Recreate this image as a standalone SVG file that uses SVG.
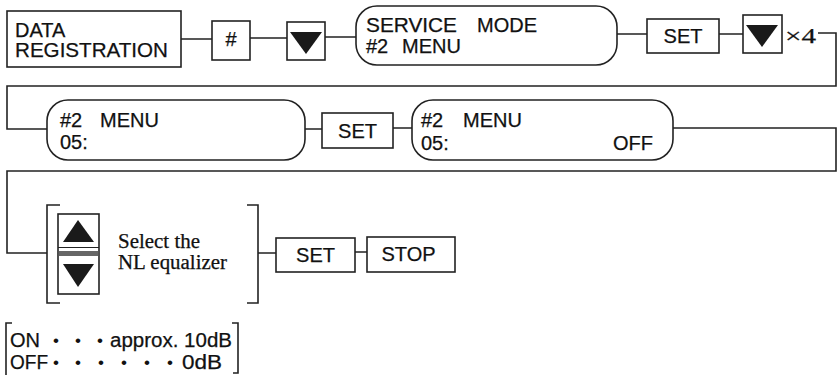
<svg xmlns="http://www.w3.org/2000/svg" width="839" height="375" viewBox="0 0 839 375">
<style>
.b{fill:#fff;stroke:#222;stroke-width:1.6}
.l{fill:none;stroke:#222;stroke-width:1.6}
.t{font-family:"Liberation Sans",Arial,sans-serif;font-size:20px;fill:#111;stroke:#111;stroke-width:0.25}
.s{font-family:"Liberation Serif","Times New Roman",serif;font-size:20px;fill:#111;stroke:#111;stroke-width:0.25}
.d{font-family:"Liberation Sans",Arial,sans-serif;font-size:17px;fill:#111;text-anchor:middle}
.tri{fill:#1a1a1a}
</style>
<rect width="839" height="375" fill="#fff"/>
<g id="connectors">
<path class="l" d="M181 39H212M250 38H287M325 37H356"/>
<path class="l" d="M617 34H647M719 34H743"/>
<path class="l" d="M818 33H836V86H7V129H47"/>
<path class="l" d="M305 129H322M393 128H412"/>
<path class="l" d="M673 128H836V171H7V253H47"/>
<path class="l" d="M258 253H276M355 252H367"/>
</g>
<g id="data-registration">
<rect class="b" x="7" y="11" width="174" height="56"/>
<text class="t" x="15" y="37">DATA</text>
<text class="t" x="15" y="57" textLength="153" lengthAdjust="spacingAndGlyphs">REGISTRATION</text>
</g>
<g id="hash">
<rect class="b" x="212" y="21" width="38" height="39"/>
<text class="t" x="231" y="46" text-anchor="middle">#</text>
</g>
<g id="down1">
<rect class="b" x="287" y="22" width="38" height="38"/>
<path class="tri" d="M290 32H322L306 54Z"/>
</g>
<g id="service-mode">
<rect class="b" x="356" y="6" width="261" height="59" rx="21" ry="21"/>
<text class="t" x="366" y="32" textLength="91" lengthAdjust="spacingAndGlyphs">SERVICE</text>
<text class="t" x="477" y="32">MODE</text>
<text class="t" x="366" y="53">#2</text>
<text class="t" x="402" y="53">MENU</text>
</g>
<g id="set1">
<rect class="b" x="647" y="19" width="72" height="34"/>
<text class="t" x="683" y="43" text-anchor="middle">SET</text>
</g>
<g id="down2">
<rect class="b" x="743" y="15" width="39" height="38"/>
<path class="tri" d="M746 25H778L762 47Z"/>
<text class="s" x="785" y="43" font-size="22" textLength="31" lengthAdjust="spacingAndGlyphs">×4</text>
</g>
<g id="menu05">
<rect class="b" x="47" y="100" width="258" height="60" rx="21" ry="21"/>
<text class="t" x="60" y="127">#2</text>
<text class="t" x="100" y="127">MENU</text>
<text class="t" x="60" y="149">05:</text>
</g>
<g id="set2">
<rect class="b" x="322" y="113" width="71" height="35"/>
<text class="t" x="357.5" y="138" text-anchor="middle">SET</text>
</g>
<g id="menu05-off">
<rect class="b" x="412" y="100" width="261" height="60" rx="21" ry="21"/>
<text class="t" x="421" y="127">#2</text>
<text class="t" x="463" y="127">MENU</text>
<text class="t" x="421" y="150">05:</text>
<text class="t" x="613" y="150">OFF</text>
</g>
<g id="select">
<path class="l" d="M60 205H47V303H60M247 205H258V303H247"/>
<rect class="b" x="58" y="214" width="41" height="80"/>
<line x1="58" y1="247.5" x2="99" y2="247.5" stroke="#222" stroke-width="1.2"/>
<rect x="58.8" y="251" width="39.4" height="5" fill="#666"/>
<path class="tri" d="M78 220L94 242H63Z"/>
<path class="tri" d="M63 264H94L78 287Z"/>
<text class="s" x="118" y="248" textLength="82" lengthAdjust="spacingAndGlyphs">Select the</text>
<text class="s" x="118" y="269" textLength="109" lengthAdjust="spacingAndGlyphs">NL equalizer</text>
</g>
<g id="set3">
<rect class="b" x="276" y="238" width="79" height="34"/>
<text class="t" x="315.5" y="262" text-anchor="middle">SET</text>
</g>
<g id="stop">
<rect class="b" x="367" y="237" width="88" height="35"/>
<text class="t" x="408.5" y="261" text-anchor="middle">STOP</text>
</g>
<g id="legend">
<path class="l" d="M12 323H6V375"/>
<path class="l" d="M232 323H238V373H233"/>
<text class="t" x="10" y="347">ON</text>
<text class="d" x="56" y="346">•</text>
<text class="d" x="78" y="346">•</text>
<text class="d" x="100" y="346">•</text>
<text class="t" x="110" y="347" textLength="122" lengthAdjust="spacingAndGlyphs">approx. 10dB</text>
<text class="t" x="10" y="369" textLength="38" lengthAdjust="spacingAndGlyphs">OFF</text>
<text class="d" x="56" y="368">•</text>
<text class="d" x="78" y="368">•</text>
<text class="d" x="101" y="368">•</text>
<text class="d" x="124" y="368">•</text>
<text class="d" x="147" y="368">•</text>
<text class="d" x="170" y="368">•</text>
<text class="t" x="182" y="369" textLength="40" lengthAdjust="spacingAndGlyphs">0dB</text>
</g>
</svg>
